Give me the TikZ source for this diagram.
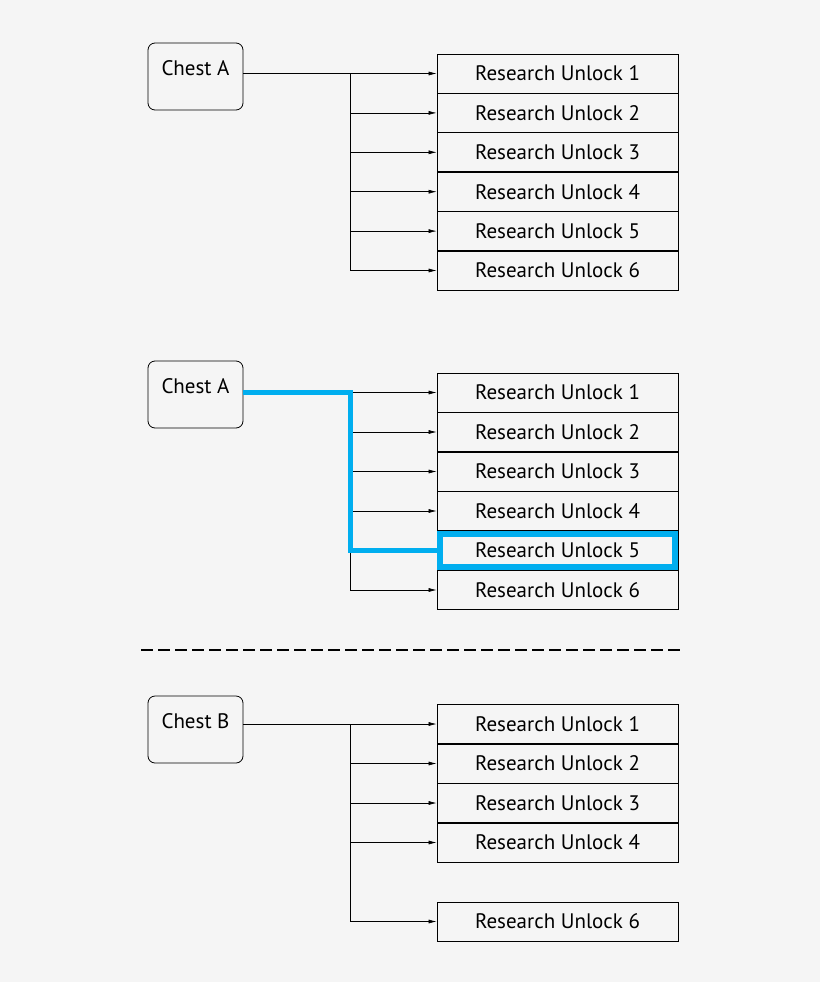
\documentclass[tikz,border=0pt]{standalone}
\usepackage{fontspec}
\setmainfont{PT Sans}
\usepackage{tikz}
\usetikzlibrary{arrows.meta,positioning}
\definecolor{pagebg}{HTML}{F5F5F5}
\definecolor{pathblue}{HTML}{00AEEF}
\tikzset{
    chest/.style={draw, thick, rounded corners=7pt, minimum width=95pt, inner sep=4pt,
        text height=28pt, text depth=31pt, font=\fontsize{21}{24}\selectfont},
    unlock/.style={draw, thick, minimum width=241pt, minimum height=39pt, inner sep=0pt,
        font=\fontsize{21}{24}\selectfont},
    link/.style={-{Latex[length=8pt,width=4pt]}, semithick},
}
\begin{document}
\begin{tikzpicture}[x=1pt,y=-1pt]
    % Background
    \fill[pagebg] (0,0) rectangle (820,982);
    \useasboundingbox (0,0) rectangle (820,982);

    % Top group: Chest A
    \node[chest] (chestA) at (195.5,76.5) {Chest A};
    \foreach \i in {1,...,6} {
        \node[unlock] (u\i) at (557.5,{73.5+39.4*(\i-1)}) {Research Unlock \i};
        \coordinate (j\i) at (350,{73.5+39.4*(\i-1)});
        \draw[link] (j\i) -- (u\i.west);
    }
    \draw[semithick] (chestA.east |- j1) -- (j1);
    \draw[semithick] (j1) -- (j6);

    % Middle group: Chest A with highlighted path
    \node[chest] (chestA2) at (195.5,394.5) {Chest A};
    \foreach \i in {1,...,6} {
        \node[unlock] (v\i) at (557.5,{392.5+39.5*(\i-1)}) {Research Unlock \i};
        \coordinate (k\i) at (350,{392.5+39.5*(\i-1)});
        \draw[link] (k\i) -- (v\i.west);
    }
    \draw[semithick] (k1) -- (k6);
    \draw[pathblue, line width=5pt] (chestA2.east |- k1) -- (k1) -- (k5) -- (v5.west);
    \draw[pathblue, line width=6pt] ([shift={(3pt,-3pt)}]v5.north west) rectangle ([shift={(-3pt,3pt)}]v5.south east);

    % Separator
    \draw[line width=2.5pt, dash pattern=on 12pt off 5pt] (141,650) -- (680,650);

    % Bottom group: Chest B
    \node[chest] (chestB) at (195.5,729.5) {Chest B};
    \foreach \i/\y in {1/724,2/763.5,3/803,4/842.5,6/921.5} {
        \node[unlock] (w\i) at (557.5,\y) {Research Unlock \i};
        \coordinate (m\i) at (350,\y);
        \draw[link] (m\i) -- (w\i.west);
    }
    \draw[semithick] (chestB.east |- m1) -- (m1);
    \draw[semithick] (m1) -- (m6);
\end{tikzpicture}
\end{document}
